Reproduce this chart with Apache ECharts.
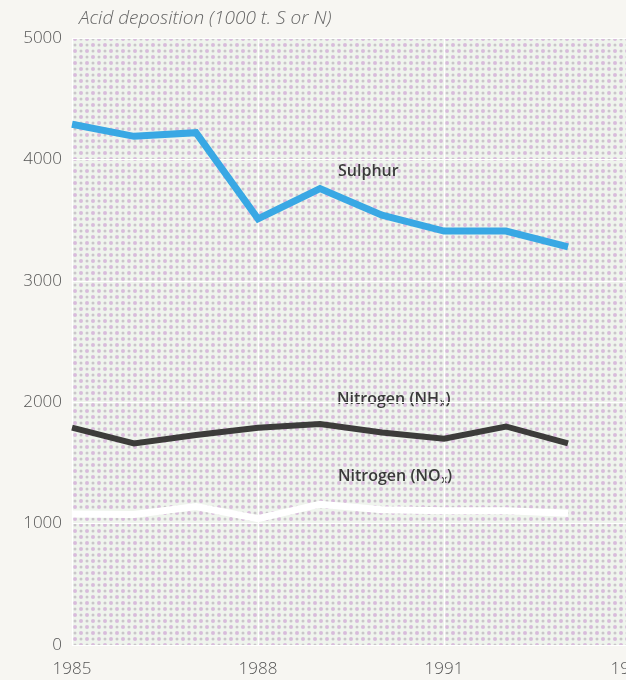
<!DOCTYPE html>
<html>
<head>
<meta charset="utf-8">
<script src="https://cdn.jsdelivr.net/npm/echarts@6/dist/echarts.min.js"></script>
<style>
  html, body { margin: 0; padding: 0; background: #f7f6f2; }
  #chart { width: 626px; height: 680px; }
</style>
</head>
<body>
<div id="chart"></div>
<script>
// Acid deposition in thousand tonnes of sulphur or nitrogen, 1985–1993
const years = ['1985', '1986', '1987', '1988', '1989', '1990', '1991', '1992', '1993', '1994'];
const sulphur = [4290, 4190, 4220, 3510, 3760, 3540, 3410, 3410, 3280];
const nitrogenNHx = [1790, 1660, 1730, 1790, 1820, 1750, 1700, 1800, 1660];
const nitrogenNOx = [1080, 1075, 1140, 1040, 1160, 1115, 1105, 1105, 1085];
const yTicks = [0, 1000, 2000, 3000, 4000, 5000];

// halftone screen used as the plot background
function makeScreen() {
  const c = document.createElement('canvas');
  c.width = 12; c.height = 12;
  const g = c.getContext('2d');
  g.fillStyle = '#eff4ed';
  g.fillRect(0, 0, 12, 12);
  const dot = (x, y, r, col) => { g.fillStyle = col; g.beginPath(); g.arc(x, y, r, 0, Math.PI * 2); g.fill(); };
  dot(3, 3, 2.0, '#d8bcdb');
  dot(9, 9, 2.0, '#d8bcdb');
  dot(9, 3, 1.5, '#c9c6c9');
  dot(3, 9, 1.5, '#c9c6c9');
  return c;
}

const chart = echarts.init(document.getElementById('chart'), null, { renderer: 'canvas' });
const axisFont = { color: '#555', fontFamily: 'Open Sans', fontSize: 17, fontWeight: 300 };
const seriesLabelFont = { fill: '#3a3a3a', fontFamily: 'Open Sans', fontSize: 16, fontWeight: 600 };
const subStyle = { fontSize: 10, fontWeight: 600, fontFamily: 'Open Sans', color: '#3a3a3a', verticalAlign: 'bottom', padding: [8, 0, 0, 1] };

chart.setOption({
  backgroundColor: '#f7f6f2',
  animation: false,
  grid: {
    left: 72, width: 558, top: 38, bottom: 35,
    containLabel: false,
    outerBoundsMode: 'none',
    show: true,
    borderWidth: 0,
    backgroundColor: { image: makeScreen(), repeat: 'repeat' }
  },
  title: {
    text: 'Acid deposition (1000 t. S or N)',
    left: 74, top: 4,
    textStyle: { color: '#666', fontFamily: 'Open Sans', fontSize: 19, fontStyle: 'italic', fontWeight: 300 }
  },
  xAxis: {
    type: 'category',
    data: years,
    boundaryGap: false,
    axisLine: { show: false },
    axisTick: { show: false },
    axisLabel: Object.assign({ interval: 2, margin: 16 }, axisFont),
    splitLine: { show: true, interval: 2, lineStyle: { color: '#ffffff', width: 1.2 } }
  },
  yAxis: {
    type: 'value',
    min: yTicks[0], max: yTicks[yTicks.length - 1], interval: 1000,
    axisLine: { show: false },
    axisTick: { show: false },
    axisLabel: Object.assign({ margin: 10, formatter: v => String(v) }, axisFont),
    splitLine: { show: true, lineStyle: { color: '#ffffff', width: 1.2 } }
  },
  series: [
    {
      name: 'Sulphur', type: 'line', data: sulphur, symbol: 'none',
      lineStyle: { color: '#39a8e4', width: 7, join: 'miter' }, z: 5
    },
    {
      name: 'Nitrogen (NHx)', type: 'line', data: nitrogenNHx, symbol: 'none',
      lineStyle: { color: '#3c3c3a', width: 6, join: 'miter' }, z: 4
    },
    {
      name: 'Nitrogen (NOx)', type: 'line', data: nitrogenNOx, symbol: 'none',
      lineStyle: { color: '#ffffff', width: 7, join: 'miter' }, z: 3
    }
  ],
  graphic: [
    {
      type: 'text', left: 338, top: 163,
      style: Object.assign({ text: 'Sulphur' }, seriesLabelFont)
    },
    {
      type: 'text', left: 337, top: 391,
      style: Object.assign({ text: 'Nitrogen (NH{s|x})', rich: { s: subStyle } }, seriesLabelFont)
    },
    {
      type: 'text', left: 338, top: 468,
      style: Object.assign({ text: 'Nitrogen (NO{s|x})', rich: { s: subStyle } }, seriesLabelFont)
    }
  ]
});
</script>
</body>
</html>
